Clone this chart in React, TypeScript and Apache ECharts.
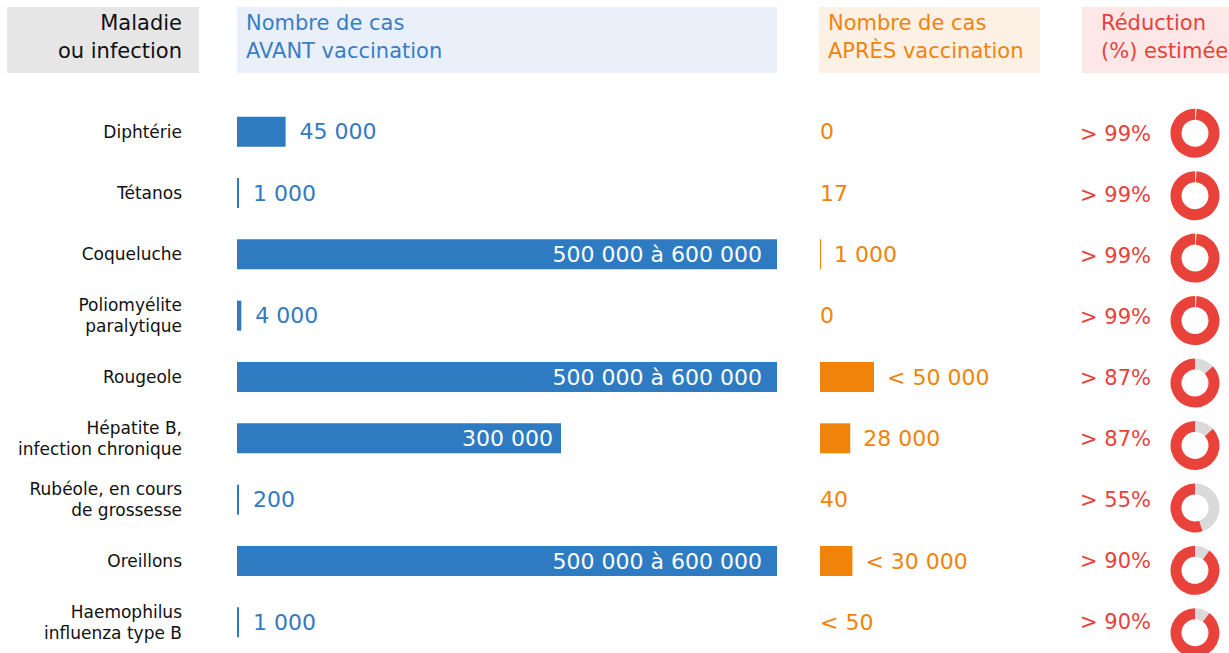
import React, { useEffect, useRef } from "react";
import * as echarts from "echarts";

const diseases = [
  "Diphtérie",
  "Tétanos",
  "Coqueluche",
  "Poliomyélite\nparalytique",
  "Rougeole",
  "Hépatite B,\ninfection chronique",
  "Rubéole, en cours\nde grossesse",
  "Oreillons",
  "Haemophilus\ninfluenza type B",
];
const beforeValues = [45000, 1000, 500000, 4000, 500000, 300000, 200, 500000, 1000];
const beforeLabels = [
  "45 000",
  "1 000",
  "500 000 à 600 000",
  "4 000",
  "500 000 à 600 000",
  "300 000",
  "200",
  "500 000 à 600 000",
  "1 000",
];
const afterValues = [0, 17, 1000, 0, 50000, 28000, 40, 30000, 50];
const afterLabels = ["0", "17", "1 000", "0", "< 50 000", "28 000", "40", "< 30 000", "< 50"];
const reduction = [99, 99, 99, 99, 87, 87, 55, 90, 90];
const reductionLabels = ["> 99%", "> 99%", "> 99%", "> 99%", "> 87%", "> 87%", "> 55%", "> 90%", "> 90%"];

const FONT = "DejaVu Sans";
const BLUE = "#2f7bc1";
const ORANGE = "#f0840b";
const RED = "#e8423a";
const GRAY = "#dadada";
const TOP = 101;
const HEIGHT = 562;

export default function App() {
  const ref = useRef<HTMLDivElement>(null);
  useEffect(() => {
    if (!ref.current) return;
    const chart = echarts.init(ref.current, undefined, { renderer: "svg" });
    const band = HEIGHT / diseases.length;
    const pies = reduction.map((p, i) => ({
      type: "pie",
      center: [1195, TOP + band * (i + 0.5) + 1],
      radius: [13.5, 24.5],
      startAngle: 90,
      clockwise: true,
      silent: true,
      label: { show: false },
      labelLine: { show: false },
      emphasis: { disabled: true },
      data: [
        { name: "reste", value: 100 - p, itemStyle: { color: GRAY } },
        { name: "réduction", value: p, itemStyle: { color: RED } },
      ],
    }));
    const option: any = {
      animation: false,
      backgroundColor: "#ffffff",
      textStyle: { fontFamily: FONT },
      graphic: [
        { type: "rect", shape: { x: 7, y: 7, width: 192, height: 66 }, style: { fill: "#e6e6e6" } },
        { type: "rect", shape: { x: 237, y: 7, width: 540, height: 66 }, style: { fill: "#e9f0f9" } },
        { type: "rect", shape: { x: 819, y: 7, width: 221, height: 66 }, style: { fill: "#fdf0e5" } },
        { type: "rect", shape: { x: 1082, y: 7, width: 160, height: 66 }, style: { fill: "#fde7e7" } },
        {
          type: "text",
          x: 182,
          y: 9,
          style: {
            text: "Maladie\nou infection",
            fill: "#111111",
            font: `21px "${FONT}"`,
            lineHeight: 28,
            align: "right",
            verticalAlign: "top",
          },
        },
        {
          type: "text",
          x: 246,
          y: 9,
          style: {
            text: "Nombre de cas\nAVANT vaccination",
            fill: "#3a7dc6",
            font: `21px "${FONT}"`,
            lineHeight: 28,
            align: "left",
            verticalAlign: "top",
          },
        },
        {
          type: "text",
          x: 828,
          y: 9,
          style: {
            text: "Nombre de cas\nAPRÈS vaccination",
            fill: ORANGE,
            font: `21px "${FONT}"`,
            lineHeight: 28,
            align: "left",
            verticalAlign: "top",
          },
        },
        {
          type: "text",
          x: 1101,
          y: 9,
          style: {
            text: "Réduction\n(%) estimée",
            fill: RED,
            font: `21px "${FONT}"`,
            lineHeight: 28,
            align: "left",
            verticalAlign: "top",
          },
        },
      ],
      grid: [
        { left: 237, top: TOP, width: 540, height: HEIGHT },
        { left: 820, top: TOP, width: 216, height: HEIGHT },
        { left: 1155, top: TOP + 2, width: 60, height: HEIGHT },
      ],
      xAxis: [
        { gridIndex: 0, type: "value", min: 0, max: 500000, show: false },
        { gridIndex: 1, type: "value", min: 0, max: 200000, show: false },
        { gridIndex: 2, type: "value", min: 0, max: 1, show: false },
      ],
      yAxis: [
        {
          gridIndex: 0,
          type: "category",
          inverse: true,
          data: diseases,
          axisLine: { show: false },
          axisTick: { show: false },
          splitLine: { show: false },
          axisLabel: {
            margin: 55,
            color: "#111111",
            fontSize: 17,
            lineHeight: 21,
            fontFamily: FONT,
            align: "right",
          },
        },
        { gridIndex: 1, type: "category", inverse: true, data: diseases, show: false },
        {
          gridIndex: 2,
          type: "category",
          inverse: true,
          data: reductionLabels,
          axisLine: { show: false },
          axisTick: { show: false },
          splitLine: { show: false },
          axisLabel: { margin: 4, color: RED, fontSize: 21, fontFamily: FONT, align: "right" },
        },
      ],
      series: [
        {
          type: "bar",
          xAxisIndex: 0,
          yAxisIndex: 0,
          barWidth: 30,
          barMinHeight: 2,
          silent: true,
          itemStyle: { color: BLUE },
          data: beforeValues.map((v, i) => {
            const inside = v >= 250000;
            return {
              value: v,
              label: {
                show: true,
                position: inside ? "insideRight" : "right",
                distance: inside ? (v >= 500000 ? 15 : 8) : 14,
                color: inside ? "#ffffff" : "#3479c2",
                fontSize: 22,
                fontFamily: FONT,
                formatter: () => beforeLabels[i],
              },
            };
          }),
        },
        {
          type: "bar",
          xAxisIndex: 1,
          yAxisIndex: 1,
          barWidth: 30,
          silent: true,
          itemStyle: { color: ORANGE },
          data: afterValues.map((v, i) => ({
            value: v,
            label: {
              show: true,
              position: "right",
              distance: v >= 1000 ? 13 : 0,
              color: ORANGE,
              fontSize: 22,
              fontFamily: FONT,
              formatter: () => afterLabels[i],
            },
          })),
        },
        ...pies,
      ],
    };
    chart.setOption(option);
    return () => chart.dispose();
  }, []);
  return (
    <div
      ref={ref}
      style={{ position: "absolute", left: 0, top: 0, width: 1229, height: 653 }}
    />
  );
}
